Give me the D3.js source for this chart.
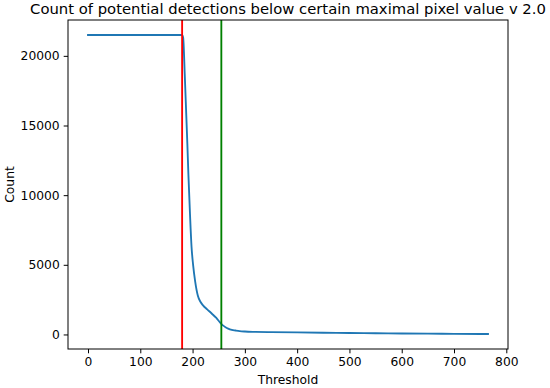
<!DOCTYPE html>
<html>
<head>
<meta charset="utf-8">
<script src="https://cdn.jsdelivr.net/npm/d3@7"></script>
<style>
  body { margin: 0; background: #fff; }
  text { font-family: "DejaVu Sans", sans-serif; fill: #000; }
</style>
</head>
<body>
<div id="chart"></div>
<script>
const thresholds = [0, 180, 182, 185, 188, 190, 192, 195, 198, 201, 205, 210, 215, 220, 228, 237, 245, 252, 258, 263, 268, 275, 282, 290, 300, 320, 350, 400, 450, 500, 550, 600, 650, 700, 765]
const counts = [21500, 21500, 21300, 18700, 15700, 13700, 11500, 8700, 6300, 5000, 3800, 2800, 2350, 2090, 1800, 1490, 1200, 885, 650, 520, 420, 330, 285, 240, 210, 185, 165, 145, 125, 105, 85, 70, 55, 42, 30]
const markers = [180, 255]
const markerColors = ["#ff0000", "#008000"]
const xTicks = [0, 100, 200, 300, 400, 500, 600, 700, 800]
const yTicks = [0, 5000, 10000, 15000, 20000]

const width = 550
const height = 388
const margin = { left: 68, right: 42, top: 20, bottom: 39 }

const points = thresholds.map((t, i) => ({ t, c: counts[i] }))

// matplotlib default 5% margins
const xMin = d3.min(thresholds), xMax = d3.max(thresholds)
const yMin = d3.min(counts), yMax = d3.max(counts)
const xPad = (xMax - xMin) * 0.05
const yPad = (yMax - yMin) * 0.05

const x = d3.scaleLinear()
    .domain([xMin - xPad, xMax + xPad])
    .range([margin.left, width - margin.right])

const y = d3.scaleLinear()
    .domain([yMin - yPad, yMax + yPad])
    .range([height - margin.bottom, margin.top])

const svg = d3.select("#chart")
    .append("svg")
    .attr("width", width)
    .attr("height", height)

svg.append("g")
    .attr("transform", `translate(0,${height - margin.bottom})`)
    .call(d3.axisBottom(x).tickValues(xTicks).tickSize(4.3).tickPadding(3.5))
    .call(g => g.select(".domain").remove())
    .call(g => g.selectAll("text").attr("font-size", 12.3).attr("font-family", "DejaVu Sans"))

svg.append("g")
    .attr("transform", `translate(${margin.left},0)`)
    .call(d3.axisLeft(y).tickValues(yTicks).tickFormat(d3.format("d")).tickSize(4.3).tickPadding(4))
    .call(g => g.select(".domain").remove())
    .call(g => g.selectAll("text").attr("font-size", 12.3).attr("font-family", "DejaVu Sans"))

svg.append("path")
    .datum(points)
    .attr("fill", "none")
    .attr("stroke", "#1f77b4")
    .attr("stroke-width", 1.85)
    .attr("stroke-linejoin", "round")
    .attr("stroke-linecap", "square")
    .attr("d", d3.line().x(d => x(d.t)).y(d => y(d.c)).curve(d3.curveMonotoneX))

svg.selectAll(".marker")
    .data(markers)
    .join("line")
    .attr("class", "marker")
    .attr("x1", d => x(d))
    .attr("x2", d => x(d))
    .attr("y1", margin.top)
    .attr("y2", height - margin.bottom)
    .attr("stroke", (d, i) => markerColors[i])
    .attr("stroke-width", 1.85)

svg.append("rect")
    .attr("x", margin.left)
    .attr("y", margin.top)
    .attr("width", width - margin.left - margin.right)
    .attr("height", height - margin.top - margin.bottom)
    .attr("fill", "none")
    .attr("stroke", "#000")
    .attr("stroke-width", 1)

const cx = (margin.left + width - margin.right) / 2

svg.append("text")
    .attr("x", cx)
    .attr("y", 13.5)
    .attr("text-anchor", "middle")
    .attr("font-size", 14.8)
    .text("Count of potential detections below certain maximal pixel value v 2.0")

svg.append("text")
    .attr("x", cx)
    .attr("y", 384)
    .attr("text-anchor", "middle")
    .attr("font-size", 12.3)
    .text("Threshold")

svg.append("text")
    .attr("transform", `translate(14,${(margin.top + height - margin.bottom) / 2}) rotate(-90)`)
    .attr("text-anchor", "middle")
    .attr("font-size", 12.3)
    .text("Count")
</script>
</body>
</html>
